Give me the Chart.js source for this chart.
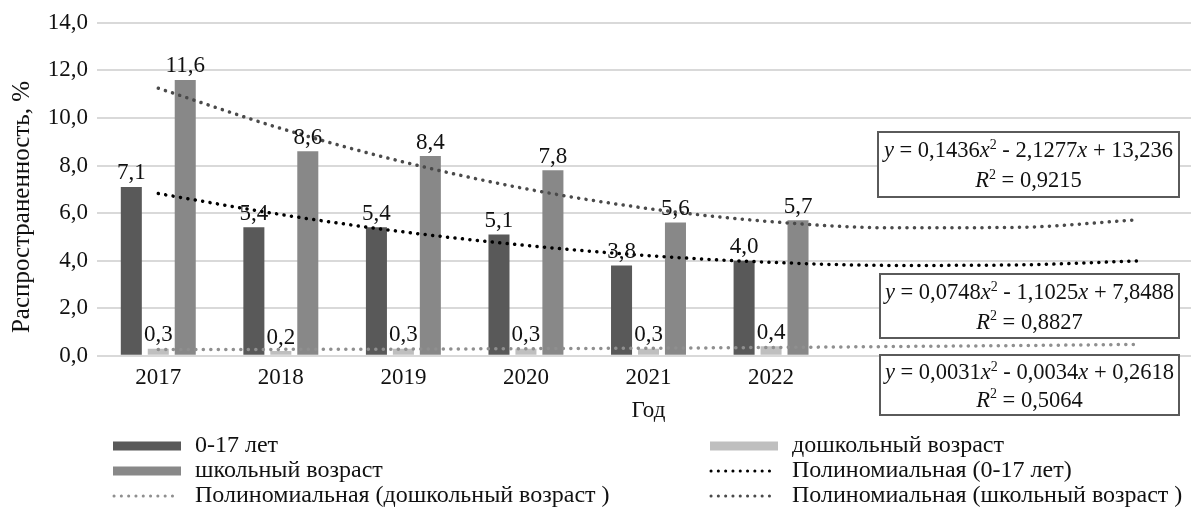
<!DOCTYPE html>
<html>
<head>
<meta charset="utf-8">
<script src="https://cdn.jsdelivr.net/npm/chart.js@4/dist/chart.umd.min.js"></script>
<style>
  html, body { margin: 0; padding: 0; background: #fff; overflow: hidden; }
  #wrap { width: 1202px; height: 516px; position: relative; }
</style>
</head>
<body>
<div id="wrap"><canvas id="myChart"></canvas></div>
<script>
const years = ["2017", "2018", "2019", "2020", "2021", "2022"];
const forecastSlots = ["", "", ""];

const total = [7.1, 5.4, 5.4, 5.1, 3.8, 4.0];
const preschool = [0.3, 0.2, 0.3, 0.3, 0.3, 0.4];
const school = [11.6, 8.6, 8.4, 7.8, 5.6, 5.7];

// trend lines (2017 .. 2022 + 3 forecast steps)
const trendTotal = [6.82, 5.94, 5.21, 4.64, 4.21, 3.93, 3.80, 3.82, 3.99];
const trendPreschool = [0.26, 0.27, 0.28, 0.30, 0.32, 0.35, 0.39, 0.43, 0.48];
const trendSchool = [11.25, 9.56, 8.15, 7.02, 6.19, 5.64, 5.38, 5.40, 5.72];

// equation labels: a, b, c, R2
const eqSchool = ["0,1436", "2,1277", "13,236", "0,9215"];
const eqTotal = ["0,0748", "1,1025", "7,8488", "0,8827"];
const eqPreschool = ["0,0031", "0,0034", "0,2618", "0,5064"];

const yTitle = "Распространенность, %";

const FONT = "'Liberation Serif', 'Times New Roman', serif";
const fmt = (v) => v.toFixed(1).replace(".", ",");

const ctx = document.getElementById("myChart").getContext("2d");

// value labels above bars
const barLabels = {
  id: "barLabels",
  afterDatasetsDraw(chart) {
    const c = chart.ctx;
    c.save();
    c.font = "23px " + FONT;
    c.fillStyle = "#111";
    c.textAlign = "center";
    c.textBaseline = "bottom";
    chart.data.datasets.forEach((ds, i) => {
      if (ds.type !== "bar") return;
      chart.getDatasetMeta(i).data.forEach((el, j) => {
        c.fillText(fmt(ds.data[j]), el.x, el.y - 2);
      });
    });
    c.restore();
  },
};

function drawRuns(c, runs, cx, cy) {
  const size = 22.5;
  const setFont = (r) => { c.font = (r.i ? "italic " : "") + (r.sup ? 14 : size) + "px " + FONT; };
  const widths = runs.map((r) => { setFont(r); return c.measureText(r.t).width; });
  let x = cx - widths.reduce((a, b) => a + b, 0) / 2;
  runs.forEach((r, k) => {
    setFont(r);
    c.fillText(r.t, x, r.sup ? cy - 6 : cy);
    x += widths[k];
  });
}

// trend equation boxes + rotated y title
const eqBoxes = {
  id: "eqBoxes",
  afterDraw(chart) {
    const c = chart.ctx;
    const boxes = [
      [eqSchool, 878, 132, 301, 65],
      [eqTotal, 880, 274, 299, 64],
      [eqPreschool, 880, 355, 299, 60],
    ];
    c.save();
    c.textBaseline = "middle";
    c.textAlign = "left";
    boxes.forEach(([eq, x, y, w, h]) => {
      c.fillStyle = "#fff";
      c.fillRect(x, y, w, h);
      c.strokeStyle = "#5a5a5a";
      c.lineWidth = 2;
      c.strokeRect(x, y, w, h);
      c.fillStyle = "#111";
      const cx = x + w / 2;
      drawRuns(c, [
        { t: "y", i: true }, { t: " = " + eq[0] }, { t: "x", i: true }, { t: "2", sup: true },
        { t: " - " + eq[1] }, { t: "x", i: true }, { t: " + " + eq[2] },
      ], cx, y + h * 0.3);
      drawRuns(c, [{ t: "R", i: true }, { t: "2", sup: true }, { t: " = " + eq[3] }], cx, y + h * 0.76);
    });

    c.translate(22, 207);
    c.rotate(-Math.PI / 2);
    c.textAlign = "center";
    c.font = "25px " + FONT;
    c.fillText(yTitle, 0, 0);
    c.restore();
  },
};

// two-column legend like the original
const gridLegend = {
  id: "gridLegend",
  afterDraw(chart) {
    const c = chart.ctx;
    c.save();
    c.font = "24px " + FONT;
    c.textBaseline = "middle";
    chart.data.datasets.forEach((ds, i) => {
      const x = i % 2 ? 710 : 113;
      const y = 446 + Math.floor(i / 2) * 25;
      if (ds.type === "bar") {
        c.fillStyle = ds.backgroundColor;
        c.fillRect(x, y - 4.5, 68, 9);
      } else {
        c.strokeStyle = ds.borderColor;
        c.lineWidth = 3;
        c.lineCap = "round";
        c.setLineDash([0.1, 7.2]);
        c.beginPath();
        c.moveTo(x + 1, y);
        c.lineTo(x + 60, y);
        c.stroke();
        c.setLineDash([]);
      }
      c.fillStyle = "#111";
      c.fillText(ds.label, x + 82, y);
    });
    c.restore();
  },
};

const trendStyle = (color) => ({
  type: "line",
  borderColor: color,
  backgroundColor: color,
  borderWidth: 3.5,
  borderDash: [0.1, 7.4],
  borderCapStyle: "round",
  pointRadius: 0,
  cubicInterpolationMode: "monotone",
  fill: false,
  order: 1,
});

const data = {
  labels: years.concat(forecastSlots),
  datasets: [
    { type: "bar", label: "0-17 лет", data: total, backgroundColor: "#595959", order: 2 },
    { type: "bar", label: "дошкольный возраст", data: preschool, backgroundColor: "#bfbfbf", order: 2 },
    { type: "bar", label: "школьный возраст", data: school, backgroundColor: "#888888", order: 2 },
    Object.assign(trendStyle("#000000"), { label: "Полиномиальная (0-17 лет)", data: trendTotal }),
    Object.assign(trendStyle("#8f8f8f"), { label: "Полиномиальная (дошкольный возраст )", data: trendPreschool }),
    Object.assign(trendStyle("#4a4a4a"), { label: "Полиномиальная (школьный возраст )", data: trendSchool }),
  ],
};

const config = {
  data: data,
  options: {
    responsive: true,
    maintainAspectRatio: false,
    animation: false,
    datasets: { bar: { categoryPercentage: 0.66, barPercentage: 0.78 } },
    layout: { padding: { left: 0, right: 2, top: 20, bottom: 91 } },
    plugins: { legend: { display: false }, tooltip: { enabled: false } },
    scales: {
      x: {
        offset: true,
        grid: { display: false },
        border: { display: false },
        ticks: { color: "#111", font: { family: FONT, size: 23 }, padding: 0, maxRotation: 0, autoSkip: false },
        title: { display: true, text: "Год", color: "#111", font: { family: FONT, size: 23 }, padding: { top: 6, bottom: 0 } },
      },
      y: {
        min: 0,
        max: 14,
        ticks: { stepSize: 2, color: "#111", font: { family: FONT, size: 23 }, padding: 9, callback: (v) => fmt(v) },
        grid: { color: "#d9d9d9", lineWidth: 2, drawTicks: false },
        border: { display: false },
        afterFit: (s) => { s.width = 97; },
      },
    },
  },
  plugins: [barLabels, eqBoxes, gridLegend],
};

const myChart = new Chart(ctx, config);
</script>
</body>
</html>
